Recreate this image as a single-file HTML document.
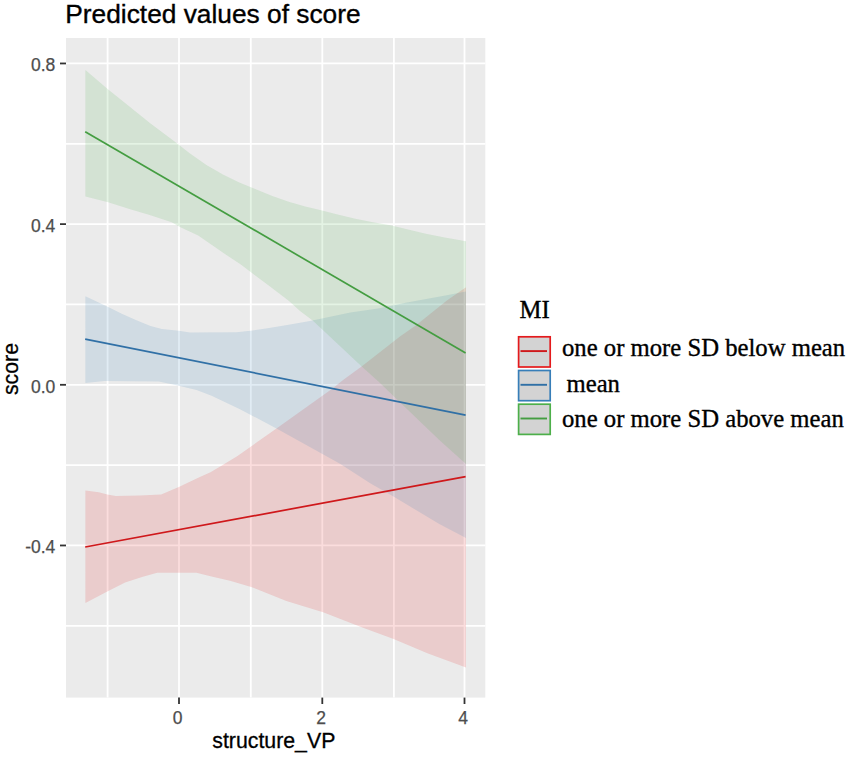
<!DOCTYPE html>
<html><head><meta charset="utf-8"><style>
html,body{margin:0;padding:0;background:#fff;width:851px;height:758px;overflow:hidden}
svg{display:block}
.ax{font-family:"Liberation Sans",sans-serif;font-size:17.5px;fill:#4D4D4D;stroke:#4D4D4D;stroke-width:0.25px}
.ti{font-family:"Liberation Sans",sans-serif;font-size:26.3px;fill:#000;stroke:#000;stroke-width:0.35px}
.at{font-family:"Liberation Sans",sans-serif;font-size:21.3px;fill:#000;stroke:#000;stroke-width:0.3px}
.lg{font-family:"Liberation Serif",serif;font-size:24.7px;fill:#000;stroke:#000;stroke-width:0.35px}
</style></head><body>
<svg width="851" height="758" viewBox="0 0 851 758">
<rect x="0" y="0" width="851" height="758" fill="#fff"/>
<text x="65.3" y="23" class="ti">Predicted values of score</text>
<rect x="66" y="38" width="419.30" height="659.60" fill="#EBEBEB"/>
<line x1="107.6" y1="38" x2="107.6" y2="697.6" stroke="#fff" stroke-width="1.8"/>
<line x1="250.8" y1="38" x2="250.8" y2="697.6" stroke="#fff" stroke-width="1.8"/>
<line x1="393.9" y1="38" x2="393.9" y2="697.6" stroke="#fff" stroke-width="1.8"/>
<line x1="66" y1="143.80" x2="485.3" y2="143.80" stroke="#fff" stroke-width="1.8"/>
<line x1="66" y1="304.47" x2="485.3" y2="304.47" stroke="#fff" stroke-width="1.8"/>
<line x1="66" y1="465.13" x2="485.3" y2="465.13" stroke="#fff" stroke-width="1.8"/>
<line x1="66" y1="625.80" x2="485.3" y2="625.80" stroke="#fff" stroke-width="1.8"/>
<line x1="179.0" y1="38" x2="179.0" y2="697.6" stroke="#fff" stroke-width="1.8"/>
<line x1="322.3" y1="38" x2="322.3" y2="697.6" stroke="#fff" stroke-width="1.8"/>
<line x1="464.5" y1="38" x2="464.5" y2="697.6" stroke="#fff" stroke-width="1.8"/>
<line x1="66" y1="63.46" x2="485.3" y2="63.46" stroke="#fff" stroke-width="1.8"/>
<line x1="66" y1="224.13" x2="485.3" y2="224.13" stroke="#fff" stroke-width="1.8"/>
<line x1="66" y1="384.80" x2="485.3" y2="384.80" stroke="#fff" stroke-width="1.8"/>
<line x1="66" y1="545.47" x2="485.3" y2="545.47" stroke="#fff" stroke-width="1.8"/>

<path d="M85.40,490.40 L98.80,492.30 L107.30,494.50 L115.70,496.00 L140.00,495.40 L161.20,494.60 L178.80,487.00 L198.80,477.60 L210.50,472.30 L222.30,465.30 L237.50,455.90 L276.50,428.50 L332.20,388.70 L343.10,380.00 L361.60,366.50 L400.00,336.50 L416.40,325.00 L446.90,300.60 L466.00,287.20 L466.00,667.40 L427.40,653.20 L393.60,639.10 L359.70,626.40 L323.10,612.30 L286.40,601.00 L251.20,586.90 L230.00,580.70 L211.60,576.50 L196.50,572.80 L157.10,572.80 L142.00,576.90 L125.10,582.60 L107.30,591.60 L85.40,602.90 Z" fill="#E41A1C" fill-opacity="0.15"/>
<path d="M85.40,296.30 L108.20,306.90 L122.30,313.90 L136.40,320.30 L150.50,325.90 L161.80,329.00 L178.70,330.80 L190.00,332.50 L236.50,332.20 L250.60,330.70 L267.60,328.20 L288.70,324.70 L310.00,321.00 L350.50,312.60 L378.20,308.50 L405.70,302.80 L446.90,295.20 L466.00,291.50 L466.00,538.00 L439.30,524.00 L416.40,510.30 L393.50,496.50 L370.60,483.50 L340.00,463.70 L276.50,428.50 L240.00,409.20 L211.60,395.70 L196.50,390.10 L177.70,385.40 L158.90,381.60 L104.40,381.10 L85.40,382.90 Z" fill="#377EB8" fill-opacity="0.15"/>
<path d="M85.40,69.90 L108.20,89.60 L129.40,106.50 L150.50,123.50 L175.90,142.50 L190.00,153.50 L206.40,165.00 L222.90,174.50 L239.30,182.40 L255.80,189.30 L272.30,195.90 L288.70,201.70 L305.20,206.60 L321.00,210.20 L337.60,214.40 L355.30,218.80 L372.90,222.30 L390.50,225.30 L408.10,229.40 L425.80,233.80 L443.40,237.30 L466.00,241.20 L466.00,464.00 L439.30,440.00 L400.70,403.10 L378.70,381.70 L361.20,366.00 L312.70,320.60 L300.00,311.10 L288.70,300.80 L268.70,285.50 L254.60,274.90 L240.50,264.30 L226.40,255.10 L212.30,245.30 L198.20,235.40 L179.90,226.90 L171.70,222.30 L150.50,215.30 L129.40,208.90 L108.20,202.30 L85.40,196.60 Z" fill="#4DAF4A" fill-opacity="0.15"/>


<line x1="85.2" y1="547" x2="465.6" y2="476.7" stroke="#CF181B" stroke-width="1.7"/>
<line x1="85.2" y1="339.1" x2="465.6" y2="415.1" stroke="#3070A6" stroke-width="1.7"/>
<line x1="85.2" y1="131.7" x2="465.6" y2="352.9" stroke="#449D41" stroke-width="1.7"/>

<line x1="60" y1="63.46" x2="66" y2="63.46" stroke="#333" stroke-width="1.8"/>
<line x1="60" y1="224.13" x2="66" y2="224.13" stroke="#333" stroke-width="1.8"/>
<line x1="60" y1="384.80" x2="66" y2="384.80" stroke="#333" stroke-width="1.8"/>
<line x1="60" y1="545.47" x2="66" y2="545.47" stroke="#333" stroke-width="1.8"/>
<line x1="179.0" y1="697.6" x2="179.0" y2="704" stroke="#333" stroke-width="1.8"/>
<line x1="322.3" y1="697.6" x2="322.3" y2="704" stroke="#333" stroke-width="1.8"/>
<line x1="464.5" y1="697.6" x2="464.5" y2="704" stroke="#333" stroke-width="1.8"/>
<text x="55.3" y="71.46" text-anchor="end" class="ax">0.8</text>
<text x="55.3" y="232.13" text-anchor="end" class="ax">0.4</text>
<text x="55.3" y="392.80" text-anchor="end" class="ax">0.0</text>
<text x="55.3" y="553.47" text-anchor="end" class="ax">-0.4</text>
<text x="177.70" y="724" text-anchor="middle" class="ax">0</text>
<text x="321.00" y="724" text-anchor="middle" class="ax">2</text>
<text x="463.20" y="724" text-anchor="middle" class="ax">4</text>
<text x="273.8" y="748.2" text-anchor="middle" class="at">structure_VP</text>
<text transform="translate(17.6,369) rotate(-90)" text-anchor="middle" class="at">score</text>
<rect x="518.6" y="336.80" width="31.6" height="30.2" fill="#D3D3D3" stroke="#E41A1C" stroke-width="1.7"/>
<line x1="520.5" y1="351.10" x2="547" y2="351.10" stroke="#CF181B" stroke-width="1.9"/>
<rect x="518.6" y="370.50" width="31.6" height="30.2" fill="#D3D3D3" stroke="#377EB8" stroke-width="1.7"/>
<line x1="520.5" y1="384.80" x2="547" y2="384.80" stroke="#3070A6" stroke-width="1.9"/>
<rect x="518.6" y="404.20" width="31.6" height="30.2" fill="#D3D3D3" stroke="#4DAF4A" stroke-width="1.7"/>
<line x1="520.5" y1="418.50" x2="547" y2="418.50" stroke="#449D41" stroke-width="1.9"/>
<text x="562" y="355.6" class="lg">one or more SD below mean</text>
<text x="566.5" y="392.3" class="lg">mean</text>
<text x="562" y="427.3" class="lg">one or more SD above mean</text>
<text x="519.5" y="317.8" class="lg">MI</text>
</svg>
</body></html>
